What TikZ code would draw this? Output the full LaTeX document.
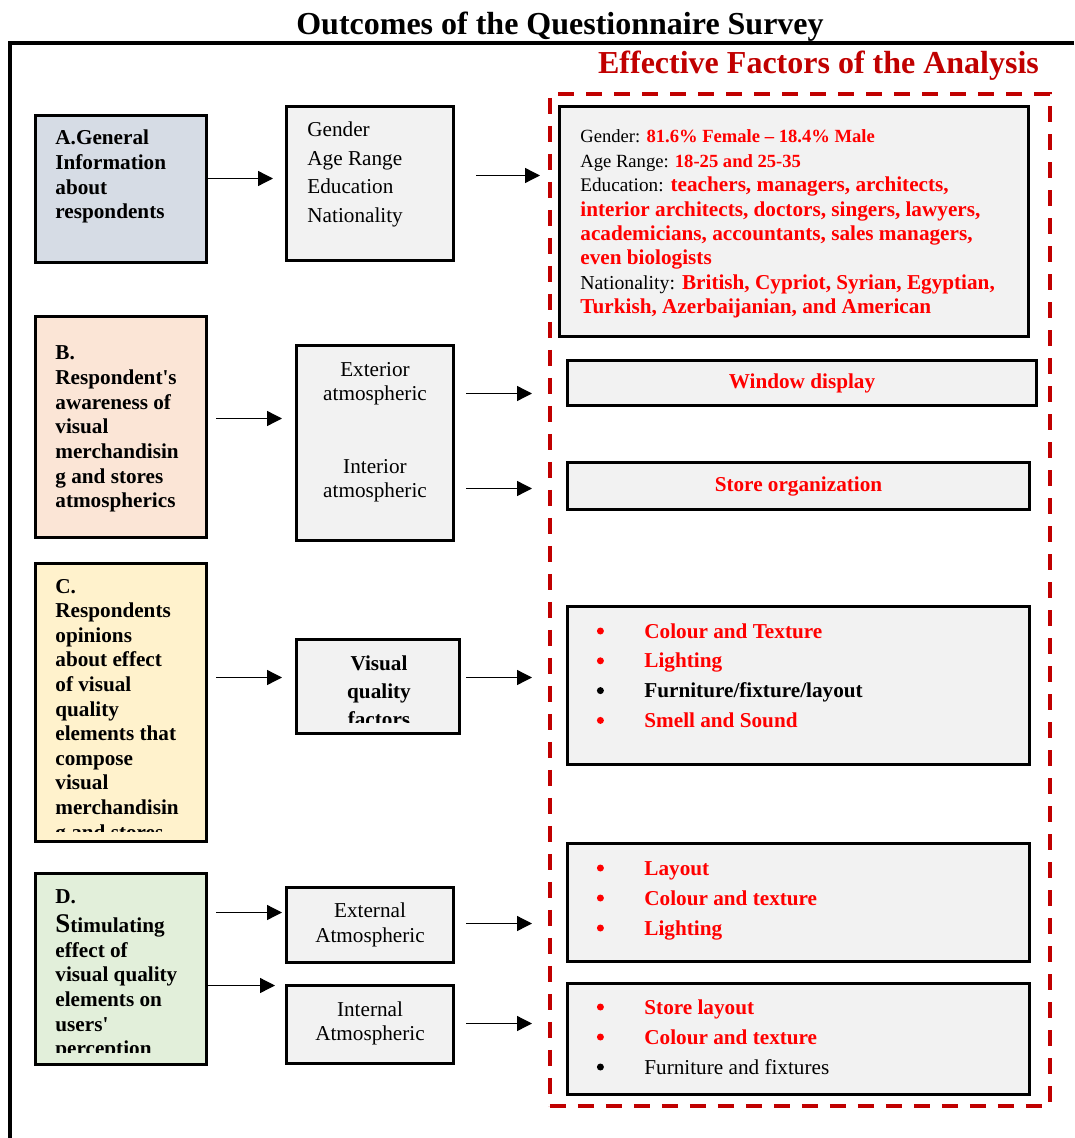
\documentclass[tikz,border=0pt]{standalone}
\usepackage{fontspec}
\setmainfont{Liberation Serif}
\usepackage{xcolor}
\usepackage{tikz}
\usetikzlibrary{arrows.meta, positioning, calc}
\definecolor{qsred}{RGB}{255,0,0}
\definecolor{qsdarkred}{RGB}{192,0,0}
\definecolor{qsgrey}{RGB}{242,242,242}
\definecolor{qsblue}{RGB}{214,220,229}
\definecolor{qspeach}{RGB}{251,229,214}
\definecolor{qscream}{RGB}{255,242,204}
\definecolor{qsgreen}{RGB}{226,239,218}
\newcommand{\redbf}[1]{\textcolor{qsred}{\bfseries #1}}
\newcommand{\bitem}[2]{\makebox[23.75pt][l]{\tikz[baseline=0pt]\fill[#1] (1.75pt,3.5pt) circle[radius=1.75pt];}\textcolor{#1}{#2}}

\begin{document}
\begin{tikzpicture}[x=0.5pt, y=-0.5pt,
    box/.style={rectangle, draw, line width=1.5pt, anchor=north west, inner sep=0pt},
    catbox/.style={box, minimum width=85.5pt},
    greybox/.style={box, fill=qsgrey, font=\fontsize{10.6}{12.3}\selectfont},
    cattext/.style={anchor=base west, inner sep=0pt, text width=75pt, align=flush left,
        font=\fontsize{10.6}{12.3}\selectfont\bfseries},
    midtext/.style={anchor=base, inner sep=0pt, text width=75pt, align=flush center,
        font=\fontsize{10.6}{12}\selectfont},
    listtext/.style={anchor=base west, inner sep=0pt, text width=200pt, align=flush left,
        font=\fontsize{10.6}{14.9}\selectfont},
    arrow/.style={-{Triangle[length=7.5pt, width=7.5pt]}, line width=0.65pt}
]
\useasboundingbox (0,0) rectangle (1074,1138);

\node[anchor=base, inner sep=0pt, font=\fontsize{16}{19}\selectfont\bfseries]
    (title) at (560,35) {Outcomes of the Questionnaire Survey};
\draw[line width=1.8pt] (1074,43) -- (10,43) -- (10,1138);
\node[anchor=base, inner sep=0pt, text=qsdarkred, font=\fontsize{16}{19}\selectfont\bfseries]
    (subtitle) at (818.5,74) {Effective Factors of the Analysis};
\node[box, draw=qsdarkred, line width=1.8pt, dash pattern=on 8pt off 6pt,
    minimum width=250pt, minimum height=506pt] (analysis) at (548,92) {};

% survey sections
\node[catbox, fill=qsblue,  minimum height=73.5pt]  (catA) at (34,114) {};
\node[catbox, fill=qspeach, minimum height=110.5pt] (catB) at (34,315) {};
\node[catbox, fill=qscream, minimum height=139pt]   (catC) at (34,562) {};
\node[catbox, fill=qsgreen, minimum height=95.5pt]  (catD) at (34,872) {};

\node[cattext] (catAtxt) at ([xshift=10.5pt, yshift=-15.5pt]catA.north west)
    {A.General\\Information\\about\\respondents};
\node[cattext] (catBtxt) at ([xshift=10.5pt, yshift=-22.5pt]catB.north west)
    {B.\\Respondent\textquotesingle s\\awareness of\\visual\\merchandisin\\g and stores\\atmospherics};
\begin{scope}
\clip (catC.north west) rectangle ([yshift=6pt]catC.south east);
\node[cattext] (catCtxt) at ([xshift=10.5pt, yshift=-15.5pt]catC.north west)
    {C.\\Respondents\\opinions\\about effect\\of visual\\quality\\elements that\\compose\\visual\\merchandisin\\g and stores};
\end{scope}
\begin{scope}
\clip (catD.north west) rectangle ([yshift=7pt]catD.south east);
\node[cattext] (catDtxt) at ([xshift=10.5pt, yshift=-15.5pt]catD.north west)
    {D.\\[2.5pt]{\fontsize{13.5}{12.3}\selectfont S}timulating\\effect of\\visual quality\\elements on\\users\textquotesingle\\perception};
\end{scope}

% survey questions
\node[greybox, minimum width=83.5pt, minimum height=77pt]   (profile)  at (285,105) {};
\node[greybox, minimum width=78.5pt, minimum height=97.5pt] (atmos)    at (295,344) {};
\node[greybox, minimum width=81.5pt, minimum height=47pt]   (visual)   at (295,638) {};
\node[greybox, minimum width=83.5pt, minimum height=37.5pt] (external) at (285,886) {};
\node[greybox, minimum width=83.5pt, minimum height=39pt]   (internal) at (285,984) {};

\node[anchor=base west, inner sep=0pt, text width=70pt, align=flush left,
    font=\fontsize{10.6}{14.2}\selectfont]
    (profiletxt) at ([xshift=11pt, yshift=-16pt]profile.north west)
    {Gender\\Age Range\\Education\\Nationality};
\node[midtext] (exttxt) at ([yshift=-16.5pt]atmos.north) {Exterior\\atmospheric};
\node[midtext] (inttxt) at ([yshift=-64.5pt]atmos.north) {Interior\\atmospheric};
\begin{scope}
\clip (visual.north west) rectangle ([yshift=6.5pt]visual.south east);
\node[midtext, font=\fontsize{10.6}{14}\selectfont\bfseries] (visualtxt)
    at ([xshift=0.5pt, yshift=-16pt]visual.north) {Visual\\quality\\factors};
\end{scope}
\node[midtext, font=\fontsize{10.6}{12.5}\selectfont] (externaltxt)
    at ([yshift=-15.5pt]external.north) {External\\Atmospheric};
\node[midtext] (internaltxt) at ([yshift=-16pt]internal.north) {Internal\\Atmospheric};

% outcomes
\node[greybox, minimum width=234.5pt, minimum height=115pt]  (info)     at (558,105) {};
\node[greybox, minimum width=234.5pt, minimum height=22.5pt] (window)   at (566,359) {\redbf{Window display}};
\node[greybox, minimum width=231pt,   minimum height=23.5pt] (storeorg) at (566,461) {\redbf{Store organization}};
\node[greybox, minimum width=231pt,   minimum height=79pt]   (listC)    at (566,605) {};
\node[greybox, minimum width=231pt,   minimum height=59pt]   (listD1)   at (566,842) {};
\node[greybox, minimum width=231pt,   minimum height=55.5pt] (listD2)   at (566,982) {};

\node[anchor=base west, inner sep=0pt, text width=240pt, align=flush left,
    font=\fontsize{10.6}{12.2}\selectfont]
    (infotxt) at ([xshift=11pt, yshift=-19pt]info.north west)
    {{\fontsize{9.3}{12.2}\selectfont Gender: \redbf{81.6\% Female -- 18.4\% Male}}\\
     {\fontsize{9.3}{12.2}\selectfont Age Range: \redbf{18-25 and 25-35}}\\
     {\fontsize{9.6}{12.2}\selectfont Education:} \redbf{teachers, managers, architects,}\\
     \redbf{interior architects, doctors, singers, lawyers,}\\
     \redbf{academicians, accountants, sales managers,}\\
     \redbf{even biologists}\\
     {\fontsize{9.9}{12.2}\selectfont Nationality:} \redbf{British, Cypriot, Syrian, Egyptian,}\\
     \redbf{Turkish, Azerbaijanian, and American}};

\node[listtext] (listCtxt) at ([xshift=15.25pt, yshift=-16.5pt]listC.north west)
    {\bitem{qsred}{\bfseries Colour and Texture}\\
     \bitem{qsred}{\bfseries Lighting}\\
     \bitem{black}{\bfseries Furniture/fixture/layout}\\
     \bitem{qsred}{\bfseries Smell and Sound}};
\node[listtext, font=\fontsize{10.6}{15}\selectfont] (listD1txt)
    at ([xshift=15.25pt, yshift=-16.5pt]listD1.north west)
    {\bitem{qsred}{\bfseries Layout}\\
     \bitem{qsred}{\bfseries Colour and texture}\\
     \bitem{qsred}{\bfseries Lighting}};
\node[listtext, font=\fontsize{10.6}{15}\selectfont] (listD2txt)
    at ([xshift=15.25pt, yshift=-16pt]listD2.north west)
    {\bitem{qsred}{\bfseries Store layout}\\
     \bitem{qsred}{\bfseries Colour and texture}\\
     \bitem{black}{Furniture and fixtures}};

% connectors
\draw[arrow, shorten >=6pt] ([yshift=5.25pt]catA.east) -- ([yshift=2.5pt]profile.west);
\draw[arrow, shorten <=10.5pt, shorten >=9pt] ([yshift=4pt]profile.east) -- ([yshift=23pt]info.west);
\draw[arrow, shorten <=4pt, shorten >=6.5pt] ([yshift=4.25pt]catB.east) -- ([yshift=12.25pt]atmos.west);
\draw[arrow, shorten <=5.5pt, shorten >=17pt] ([yshift=24.75pt]atmos.east) -- ([yshift=-5.25pt]window.west);
\draw[arrow, shorten <=5.5pt, shorten >=17pt] ([yshift=-22.75pt]atmos.east) -- ([yshift=-1.25pt]storeorg.west);
\draw[arrow, shorten <=4pt, shorten >=6.5pt] ([yshift=12.5pt]catC.east) -- ([yshift=4.5pt]visual.west);
\draw[arrow, shorten <=2.5pt, shorten >=17pt] ([yshift=4.5pt]visual.east) -- ([yshift=4pt]listC.west);
\draw[arrow, shorten <=4pt, shorten >=1.5pt] ([yshift=28.25pt]catD.east) -- ([yshift=6.25pt]external.west);
\draw[arrow, shorten >=5pt] ([yshift=-8.25pt]catD.east) -- ([yshift=19.5pt]internal.west);
\draw[arrow, shorten <=5.5pt, shorten >=17pt] ([yshift=0.75pt]external.east) -- ([yshift=-10.5pt]listD1.west);
\draw[arrow, shorten <=5.5pt, shorten >=17pt] ([yshift=0.5pt]internal.east) -- ([yshift=7.75pt]listD2.west);
\end{tikzpicture}
\end{document}
